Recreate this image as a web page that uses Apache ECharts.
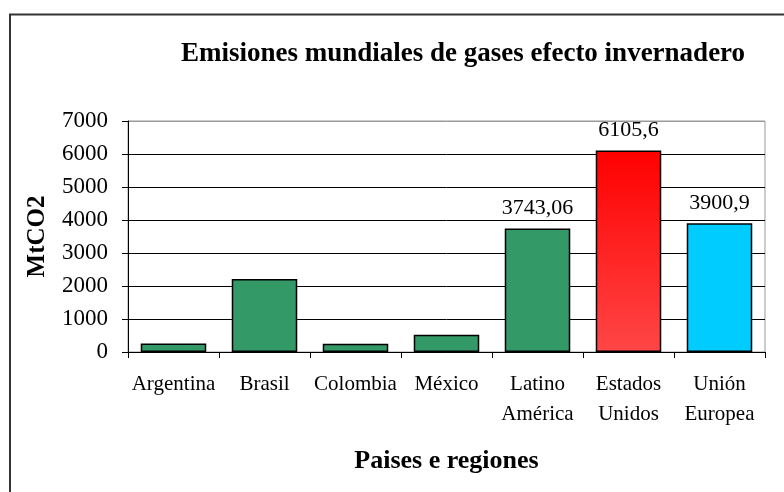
<!DOCTYPE html>
<html>
<head>
<meta charset="utf-8">
<script src="https://cdn.jsdelivr.net/npm/echarts@6/dist/echarts.min.js"></script>
<style>html,body{margin:0;padding:0;background:#fff}#c{width:784px;height:492px}</style>
</head>
<body>
<div id="c"></div>
<script>
const categories = ['Argentina', 'Brasil', 'Colombia', 'México', 'Latino\nAmérica', 'Estados\nUnidos', 'Unión\nEuropea'];
const values = [260, 2210, 250, 520, 3743.06, 6105.6, 3900.9];
const valueLabels = ['', '', '', '', '3743,06', '6105,6', '3900,9'];
const yTicks = [0, 1000, 2000, 3000, 4000, 5000, 6000, 7000];

const FONT = "'Liberation Serif', 'Times New Roman', serif";
const green = '#339966';
const barColors = [green, green, green, green, green,
  new echarts.graphic.LinearGradient(0, 0, 0, 1, [{offset: 0, color: '#ff0000'}, {offset: 1, color: '#ff4646'}]),
  '#00ccff'];

const chart = echarts.init(document.getElementById('c'), null, {renderer: 'canvas'});
chart.setOption({
  backgroundColor: '#fff',
  animation: false,
  title: {
    text: 'Emisiones mundiales de gases efecto invernadero',
    left: 458, top: 36, textAlign: 'center',
    textStyle: {fontFamily: FONT, fontWeight: 'bold', fontSize: 27, color: '#000'}
  },
  graphic: [{
    type: 'rect', shape: {x: 10, y: 14.5, width: 820, height: 520},
    style: {fill: 'none', stroke: '#333', lineWidth: 2}, silent: true
  }],
  grid: {left: 128, right: 19, top: 121, bottom: 140, show: true, borderColor: '#999', borderWidth: 1, backgroundColor: 'transparent'},
  xAxis: {
    type: 'category', data: categories,
    name: 'Paises e regiones', nameLocation: 'middle', nameGap: 96,
    nameTextStyle: {fontFamily: FONT, fontWeight: 'bold', fontSize: 26, color: '#000'},
    axisLine: {lineStyle: {color: '#000', width: 1}},
    axisTick: {show: true, length: 6, lineStyle: {color: '#000'}},
    axisLabel: {fontFamily: FONT, fontSize: 21, color: '#000', margin: 17, lineHeight: 30, interval: 0}
  },
  yAxis: {
    type: 'value', min: 0, max: 7000, interval: 1000,
    name: 'MtCO2', nameLocation: 'middle', nameGap: 78, nameRotate: 90,
    nameTextStyle: {fontFamily: FONT, fontWeight: 'bold', fontSize: 25, color: '#000'},
    axisLine: {show: true, lineStyle: {color: '#000', width: 1}},
    axisTick: {show: true, length: 6, lineStyle: {color: '#000'}},
    axisLabel: {fontFamily: FONT, fontSize: 23, color: '#000', margin: 20,
      formatter: v => String(yTicks[yTicks.indexOf(v)])},
    splitLine: {show: true, lineStyle: {color: ['#000', '#000', '#000', '#000', '#000', '#000', '#000', '#999'], width: 1}}
  },
  series: [{
    type: 'bar', barCategoryGap: '28%',
    data: values.map((v, i) => ({
      value: v,
      itemStyle: {color: barColors[i], borderColor: '#000', borderWidth: 1.5},
      label: {show: valueLabels[i] !== '', position: 'top', distance: 9,
        formatter: valueLabels[i], fontFamily: FONT, fontSize: 22, color: '#000'}
    }))
  }]
});
</script>
</body>
</html>
